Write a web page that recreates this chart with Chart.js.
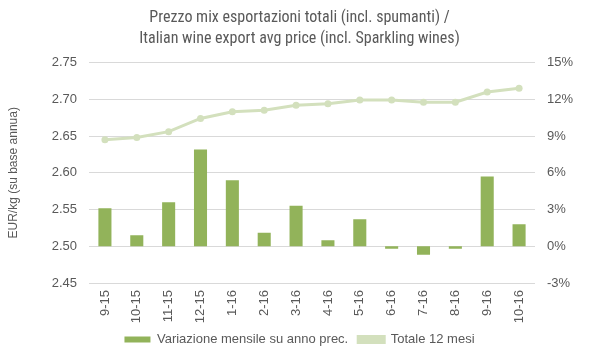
<!DOCTYPE html>
<html>
<head>
<meta charset="utf-8">
<script src="https://cdn.jsdelivr.net/npm/chart.js@4/dist/chart.umd.min.js"></script>
<style>
html,body{margin:0;padding:0;background:#fff;}
#wrap{width:599px;height:356px;position:relative;}
</style>
</head>
<body>
<div id="wrap"><canvas id="c" width="599" height="356"></canvas></div>
<script>
const categories = ["9-15","10-15","11-15","12-15","1-16","2-16","3-16","4-16","5-16","6-16","7-16","8-16","9-16","10-16"];
const monthlyChange = [3.1, 0.9, 3.6, 7.9, 5.4, 1.1, 3.3, 0.5, 2.2, -0.2, -0.7, -0.2, 5.7, 1.8];
const total12m = [2.645, 2.648, 2.656, 2.674, 2.683, 2.685, 2.692, 2.694, 2.699, 2.699, 2.696, 2.696, 2.710, 2.715];
const leftTicks = [2.45, 2.50, 2.55, 2.60, 2.65, 2.70, 2.75];
const rightTicks = [-3, 0, 3, 6, 9, 12, 15];
const titleLines = ["Prezzo mix esportazioni totali (incl. spumanti) /", "Italian wine export avg price (incl. Sparkling wines)"];
const seriesNames = ["Variazione mensile su anno prec.", "Totale 12 mesi"];
const yTitle = "EUR/kg (su base annua)";

const txt = '#595959';
const baseFont = "'Liberation Sans', Arial, sans-serif";
const narrowFont = "'Liberation Sans Narrow', 'Arial Narrow', 'Roboto Condensed', 'Liberation Sans', sans-serif";

new Chart(document.getElementById('c'), {
  data: {
    labels: categories,
    datasets: [
      {
        type: 'line',
        label: seriesNames[1],
        data: total12m,
        yAxisID: 'y',
        borderColor: '#D3E0BD',
        backgroundColor: '#D3E0BD',
        borderWidth: 3,
        pointRadius: 3.5,
        pointBackgroundColor: '#D3E0BD',
        pointBorderWidth: 0,
        tension: 0,
        order: 0
      },
      {
        type: 'bar',
        label: seriesNames[0],
        data: monthlyChange,
        yAxisID: 'yR',
        backgroundColor: '#92B35A',
        barPercentage: 0.41,
        categoryPercentage: 1,
        order: 1
      }
    ]
  },
  options: {
    responsive: false,
    animation: false,
    layout: { padding: { left: 0, right: 0, top: 0, bottom: 0 } },
    plugins: {
      title: {
        display: true,
        text: titleLines,
        color: txt,
        font: { family: narrowFont, size: 16, weight: 'normal', lineHeight: 1.3 },
        padding: { top: 8, bottom: 13 }
      },
      legend: {
        position: 'bottom',
        reverse: true,
        labels: {
          color: txt,
          font: { family: baseFont, size: 13 },
          boxWidth: 26,
          boxHeight: 6,
          padding: 10
        }
      },
      tooltip: { enabled: false }
    },
    scales: {
      x: {
        grid: { display: false, drawTicks: false },
        border: { display: false },
        ticks: {
          color: txt,
          font: { family: baseFont, size: 13 },
          minRotation: 90,
          maxRotation: 90,
          autoSkip: false,
          padding: 7
        },
        afterFit: (s) => { s.height = 40; }
      },
      y: {
        position: 'left',
        min: 2.45,
        max: 2.75,
        afterBuildTicks: (s) => { s.ticks = leftTicks.map(v => ({ value: v })); },
        grid: { color: '#D9D9D9', lineWidth: 1, drawTicks: false },
        border: { display: false },
        ticks: {
          color: txt,
          font: { family: baseFont, size: 13 },
          padding: 12,
          callback: (v) => Number(v).toFixed(2)
        },
        title: {
          display: true,
          text: yTitle,
          color: txt,
          font: { family: baseFont, size: 12 },
          padding: { top: 6, bottom: 0 }
        },
        afterFit: (s) => { s.width = 89; }
      },
      yR: {
        position: 'right',
        min: -3,
        max: 15,
        afterBuildTicks: (s) => { s.ticks = rightTicks.map(v => ({ value: v })); },
        grid: { display: false, drawTicks: false },
        border: { display: false },
        ticks: {
          color: txt,
          font: { family: baseFont, size: 13 },
          padding: 12,
          callback: (v) => v + '%'
        },
        afterFit: (s) => { s.width = 64; }
      }
    }
  }
});
</script>
</body>
</html>
